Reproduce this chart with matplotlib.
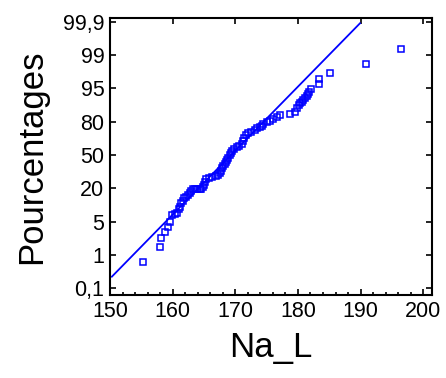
import matplotlib
matplotlib.use("Agg")
import matplotlib.pyplot as plt
from matplotlib.ticker import MultipleLocator, FixedLocator

# Na_L values (sorted) and their plotting positions on the probability scale
# (y positions in tick units: 0 = 0,1 % ... 8 = 99,9 %)
na_l = [155.2, 158.0, 158.2, 158.8, 159.2, 159.6, 159.95, 160.3, 160.7, 161.0,
        161.2, 161.4, 161.6, 161.8, 162.1, 162.5, 162.8, 163.0, 163.2, 163.5,
        163.9, 164.3, 164.6, 164.8, 165.0, 165.2, 165.4, 165.8, 166.3, 166.9,
        167.2, 167.5, 167.7, 167.9, 168.1, 168.3, 168.5, 168.7, 168.9, 169.1,
        169.3, 169.5, 169.8, 170.2, 170.6, 171.0, 171.2, 171.4, 171.7, 172.1,
        172.5, 173.1, 173.5, 173.9, 174.2, 174.5, 175.0, 175.5, 176.1, 176.6,
        177.1, 178.8, 179.5, 179.8, 180.1, 180.3, 180.6, 180.8, 181.1, 181.4,
        181.6, 181.8, 182.1, 183.3, 183.3, 185.1, 190.8, 196.4]
position = [0.80, 1.24, 1.52, 1.70, 1.85, 1.98, 2.20, 2.22, 2.27, 2.38,
            2.45, 2.55, 2.62, 2.70, 2.75, 2.80, 2.87, 2.92, 2.97, 2.98,
            2.99, 2.97, 2.98, 3.03, 3.10, 3.20, 3.28, 3.31, 3.33, 3.37,
            3.40, 3.45, 3.52, 3.60, 3.66, 3.73, 3.80, 3.86, 3.92, 3.99,
            4.06, 4.12, 4.18, 4.24, 4.27, 4.32, 4.42, 4.52, 4.60, 4.65,
            4.70, 4.76, 4.81, 4.85, 4.88, 4.92, 4.98, 5.03, 5.07, 5.14,
            5.21, 5.23, 5.30, 5.42, 5.49, 5.55, 5.60, 5.66, 5.71, 5.77,
            5.83, 5.90, 5.99, 6.13, 6.29, 6.45, 6.73, 7.17]

# reference (normal) line
line_x = [150.3, 189.9]
line_y = [0.35, 7.95]

pct_labels = ['0,1', '1', '5', '20', '50', '80', '95', '99', '99,9']
x_ticks = [150, 160, 170, 180, 190, 200]

plt.rcParams['font.family'] = ['Liberation Sans', 'DejaVu Sans']

fig = plt.figure(figsize=(4.46, 3.78), dpi=100)
ax = fig.add_axes([0.2466, 0.2196, 0.722, 0.7328])

ax.plot(line_x, line_y, color='#0000ff', lw=1.3)
ax.plot(na_l, position, ls='none', marker='s', ms=4.0, mfc='none',
        mec='#0000ff', mew=1.1)

ax.set_xlim(150, 201.4)
ax.set_ylim(-0.2, 8.11)
ax.xaxis.set_major_locator(FixedLocator(x_ticks))
ax.xaxis.set_minor_locator(MultipleLocator(2))
ax.set_yticks(range(len(pct_labels)))
ax.set_yticklabels(pct_labels)

ax.tick_params(which='both', direction='in', top=True, right=True,
               labelsize=15.5, width=1.2, pad=4)
ax.tick_params(which='major', length=4)
ax.tick_params(which='minor', length=2.5, top=False, right=False)
for s in ax.spines.values():
    s.set_linewidth(1.5)

ax.set_xlabel('Na_L', fontsize=25, labelpad=7)
ax.set_ylabel('Pourcentages', fontsize=25, labelpad=11)

fig.savefig('out.png', dpi=100)
